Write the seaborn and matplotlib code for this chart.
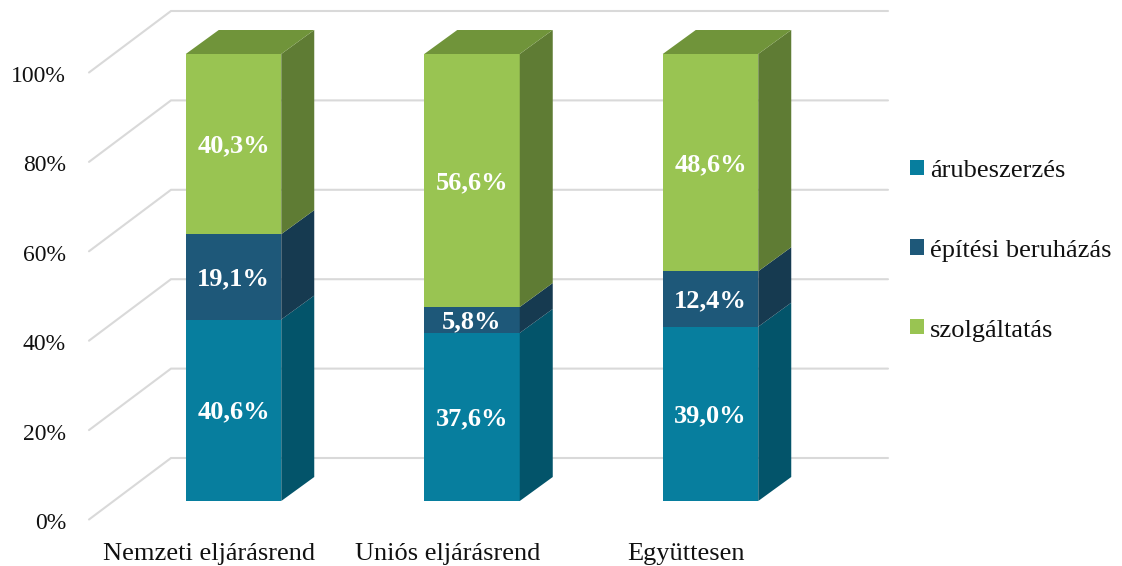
import matplotlib
matplotlib.use("Agg")
import matplotlib.pyplot as plt
from matplotlib.patches import Patch
import seaborn as sns
import numpy as np

categories = ["Nemzeti eljárásrend", "Uniós eljárásrend", "Együttesen"]
series_names = ["árubeszerzés", "építési beruházás", "szolgáltatás"]
arubeszerzes = [40.6, 37.6, 39.0]
epitesi = [19.1, 5.8, 12.4]
szolgaltatas = [40.3, 56.6, 48.6]
value_labels = [["40,6%", "37,6%", "39,0%"], ["19,1%", "5,8%", "12,4%"], ["40,3%", "56,6%", "48,6%"]]
y_ticks = [0, 20, 40, 60, 80, 100]
y_tick_labels = ["0%", "20%", "40%", "60%", "80%", "100%"]
grid_levels = [0, 20, 40, 60, 80, 100]

front_colors = ["#077E9E", "#1E5879", "#99C452"]
side_colors = ["#03546A", "#163A50", "#5F7C34"]
top_color = "#70943A"
grid_color = "#D9D9D9"
FONT = "Liberation Serif"

W, H = 1122, 566
sns.set_theme(style="white")
plt.rcParams["font.family"] = [FONT, "DejaVu Serif"]
fig = plt.figure(figsize=(W / 100, H / 100), dpi=100)
# axes frame: category slots and the 0-100 % front plane of the bars
ax = fig.add_axes([114.25 / W, 1 - 501 / H, 715.5 / W, 447 / H])
ax.patch.set_alpha(0)

xpx = 715.5 / 3   # px per category
ypx = 447 / 100   # px per percent
bar_w = 95.5 / xpx
dx, dy = 33 / xpx, 24 / ypx

# gridlines: side wall + back wall
wall_fx, wall_fy = -0.5 - 25.25 / xpx, -18.5 / ypx
wall_bx, wall_by = -0.5 + 56.75 / xpx, 43 / ypx
wall_rx = 2.5 + 58.25 / xpx
for lv in grid_levels:
    ax.plot([wall_fx, wall_bx, wall_rx], [lv + wall_fy, lv + wall_by, lv + wall_by],
            color=grid_color, lw=1.5, clip_on=False, zorder=1, solid_joinstyle="miter")

bottom = np.zeros(3)
stack = [arubeszerzes, epitesi, szolgaltatas]
for s, vals in enumerate(stack):
    vals = np.array(vals)
    sns.barplot(x=categories, y=vals, bottom=bottom, width=bar_w, color=front_colors[s],
                saturation=1, ax=ax, zorder=3, clip_on=False, linewidth=0)
    for i in range(3):
        xr = i + bar_w / 2
        b, t = bottom[i], bottom[i] + vals[i]
        ax.fill([xr, xr + dx, xr + dx, xr], [b, b + dy, t + dy, t],
                color=side_colors[s], lw=0, clip_on=False, zorder=3)
        ax.text(i, (b + t) / 2 - 2 / ypx, value_labels[s][i], color="white", fontweight="bold",
                fontsize=19, ha="center", va="center", zorder=5, clip_on=False)
    bottom = bottom + vals

for i in range(3):
    xl, xr = i - bar_w / 2, i + bar_w / 2
    ax.fill([xl, xr, xr + dx, xl + dx], [bottom[i], bottom[i], bottom[i] + dy, bottom[i] + dy],
            color=top_color, lw=0, clip_on=False, zorder=3)

ax.set_xlim(-0.5, 2.5)
ax.set_ylim(0, 100)
ax.set_xticks([]); ax.set_yticks([])
ax.set_xlabel(""); ax.set_ylabel("")
sns.despine(ax=ax, left=True, bottom=True)

for v, lab in zip(y_ticks, y_tick_labels):
    ax.text(wall_fx - 23 / xpx, v + wall_fy - 4 / ypx, lab, ha="right", va="center",
            fontsize=17, color="#111111", clip_on=False)
for i, lab in enumerate(categories):
    ax.text(i - 24.5 / xpx, -53 / ypx, lab, ha="center", va="center",
            fontsize=19, color="#111111", clip_on=False)

handles = [Patch(facecolor=c, edgecolor="none") for c in front_colors]
leg = fig.legend(handles, series_names, loc="center left", bbox_to_anchor=(910 / W, 1 - 251 / H),
                 frameon=False, fontsize=19, handlelength=0.53, handleheight=0.53,
                 handletextpad=0.23, labelspacing=2.18, borderpad=0, borderaxespad=0, labelcolor="#111111")
for p in leg.get_patches():
    p.set_y(p.get_y() + 0.5)

fig.savefig("out.png", dpi=100)
